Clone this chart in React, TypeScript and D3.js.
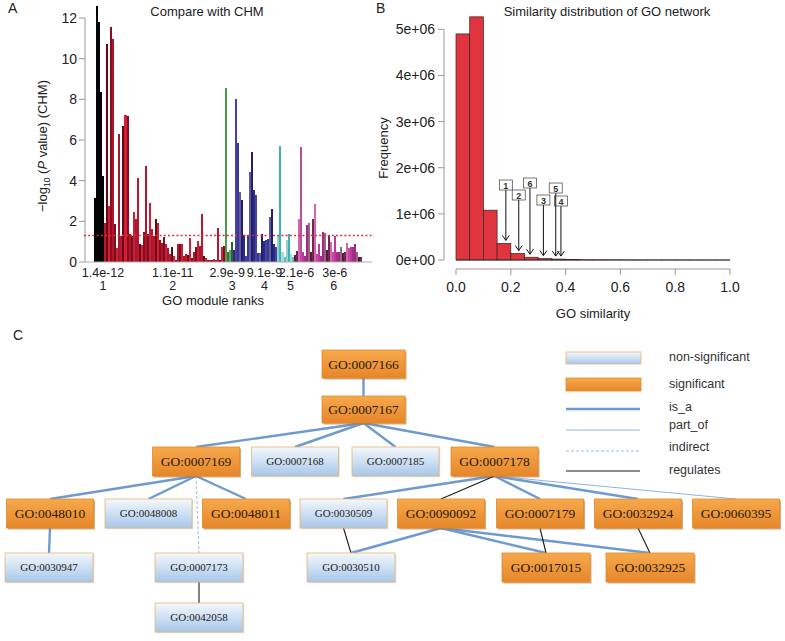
import React from 'react';
import * as d3 from 'd3';

// ---------- Panel A data ----------
const chmValues = [
  3.15, 12.6, 11.8, 8.35, 4.25,
  1.9, 10.7, 2.75, 11.55, 10.95, 1.85, 0.7, 6.3, 1.3, 6.7, 7.25, 7.2, 1.4, 1.3, 2.45,
  2.1, 4.15, 0.9, 0.85, 1.5, 4.7, 1.4, 2.9, 1.6, 1.3, 2.1, 1.9, 1.1, 0.95, 1.25,
  0.9, 0.7, 0.4, 0.75, 0.3, 0.1, 0.9, 0.9, 0.9, 0.3, 0.4, 0.35, 1.2, 0.2, 0.5,
  0.75, 1.05, 0.8, 2.35, 0.3, 0.2, 0.1, 0.12, 0.12, 0.15, 0.1, 1.65, 0.1, 0.75, 0.8,
  8.55, 0.5, 0.6, 1.0,
  0.6, 8.0, 5.85, 3.45, 3.05, 1.35, 0.3, 1.35, 4.45, 5.4, 3.55, 3.3, 0.45, 0.45, 1.4,
  1.05, 1.1, 1.15, 2.2, 2.6, 0.9, 0.75,
  1.3, 5.7, 0.5, 0.25, 1.1, 1.4, 0.4, 0.25,
  0.35, 0.55, 2.1, 5.65, 0.5, 0.3, 1.8, 1.9, 0.5, 2.1, 2.85, 0.4, 0.9, 0.3, 1.5, 1.45,
  0.6, 1.35, 1.0, 0.5, 1.3, 0.5, 0.5, 0.75, 0.45, 0.5, 0.95, 0.7, 0.75, 0.75, 0.9,
  0.5, 0.25, 0.25,
];
const moduleSizes = [5, 60, 4, 22, 8, 34];
const modulePvalLabels = ['1.4e-12', '1.1e-11', '2.9e-9', '9.1e-9', '2.1e-6', '3e-6'];
const moduleRankLabels = ['1', '2', '3', '4', '5', '6'];
const pvalLabelAnchor = [4.3, 39, 66, 84.5, 100.5, 119.5];
const rankLabelAnchor = [4.3, 39, 68.5, 84.5, 97.5, 119];
const yTicksA = [0, 2, 4, 6, 8, 10, 12];
const sigThreshold = 1.3;

// ---------- Panel B data ----------
const simBinStarts = d3.range(0, 1, 0.05);
const simCountsMillions = [
  4.9, 5.27, 1.08, 0.36, 0.14, 0.06, 0.03, 0.02, 0.008, 0.005,
  0.004, 0.003, 0.002, 0.0015, 0.001, 0.001, 0.0008, 0.0005, 0.0003, 0.0002,
];
const moduleSimilarity = [0.182, 0.229, 0.319, 0.383, 0.364, 0.27];
const moduleSimNames = ['1', '2', '3', '4', '5', '6'];
const yTicksB = [0, 1, 2, 3, 4, 5];
const yTickLabelsB = ['0e+00', '1e+06', '2e+06', '3e+06', '4e+06', '5e+06'];
const xTicksB = [0, 0.2, 0.4, 0.6, 0.8, 1.0];

// ---------- Panel C data ----------
const goTerms = [
  'GO:0007166', 'GO:0007167', 'GO:0007169', 'GO:0007168', 'GO:0007185', 'GO:0007178',
  'GO:0048010', 'GO:0048008', 'GO:0048011', 'GO:0030509', 'GO:0090092', 'GO:0007179',
  'GO:0032924', 'GO:0060395', 'GO:0030947', 'GO:0007173', 'GO:0030510', 'GO:0017015',
  'GO:0032925', 'GO:0042058',
];
const goSignificant = [
  true, true, true, false, false, true,
  true, false, true, false, true, true,
  true, true, false, false, false, true,
  true, false,
];
const goEdges: [string, string, string][] = [
  ['GO:0007166', 'GO:0007167', 'is_a'],
  ['GO:0007167', 'GO:0007169', 'is_a'],
  ['GO:0007167', 'GO:0007168', 'is_a'],
  ['GO:0007167', 'GO:0007185', 'is_a'],
  ['GO:0007167', 'GO:0007178', 'is_a'],
  ['GO:0007169', 'GO:0048010', 'is_a'],
  ['GO:0007169', 'GO:0048008', 'is_a'],
  ['GO:0007169', 'GO:0048011', 'is_a'],
  ['GO:0007169', 'GO:0007173', 'indirect'],
  ['GO:0048010', 'GO:0030947', 'is_a'],
  ['GO:0007173', 'GO:0042058', 'regulates'],
  ['GO:0007178', 'GO:0030509', 'is_a'],
  ['GO:0007178', 'GO:0090092', 'regulates'],
  ['GO:0007178', 'GO:0007179', 'is_a'],
  ['GO:0007178', 'GO:0032924', 'is_a'],
  ['GO:0007178', 'GO:0060395', 'part_of'],
  ['GO:0030509', 'GO:0030510', 'regulates'],
  ['GO:0090092', 'GO:0030510', 'is_a'],
  ['GO:0090092', 'GO:0017015', 'is_a'],
  ['GO:0090092', 'GO:0032925', 'is_a'],
  ['GO:0007179', 'GO:0017015', 'regulates'],
  ['GO:0032924', 'GO:0032925', 'regulates'],
];
const legendItems = ['non-significant', 'significant', 'is_a', 'part_of', 'indirect', 'regulates'];

// ---------- Layout (positions, not data) ----------
const rowTop = [350, 396, 447, 499, 553, 603];
const rowHeight = [28, 27, 29, 29, 29, 29];
const rowWidth = [83, 83, 87, 87, 88, 88];
const nodeLayout: Record<string, [number, number]> = {
  'GO:0007166': [363.5, 0], 'GO:0007167': [363.5, 1],
  'GO:0007169': [196, 2], 'GO:0007168': [295, 2], 'GO:0007185': [395.5, 2], 'GO:0007178': [494.5, 2],
  'GO:0048010': [50, 3], 'GO:0048008': [148.5, 3], 'GO:0048011': [246, 3], 'GO:0030509': [343.5, 3],
  'GO:0090092': [441, 3], 'GO:0007179': [540, 3], 'GO:0032924': [638, 3], 'GO:0060395': [736, 3],
  'GO:0030947': [49, 4], 'GO:0007173': [199, 4], 'GO:0030510': [351, 4], 'GO:0017015': [546, 4],
  'GO:0032925': [650, 4], 'GO:0042058': [199, 5],
};
const simLabelTop = [180, 190, 195, 196, 183, 178];

const moduleShades = [
  ['#050505', '#111111', '#000000'],
  ['#c0142e', '#8a0c1e', '#cc1f36', '#650812', '#b0152b', '#a31a30', '#d41e38', '#78101f'],
  ['#2e7a34', '#4a9a4f', '#236b2a', '#6f9a70'],
  ['#2d2a86', '#3b3898', '#231f6e', '#4444a0', '#5c5c98'],
  ['#3fb3ab', '#8fd2d0', '#5fbfbb', '#a6dcdc'],
  ['#a8287f', '#7a2250', '#c236a0', '#8c6a80', '#d066b0', '#9a3486', '#5a1a3c', '#b8509a'],
];

const SANS = 'Liberation Sans, Arial, sans-serif';
const SERIF = 'Liberation Serif, Times New Roman, serif';

function PanelA() {
  const n = chmValues.length;
  const x = d3.scaleBand<number>().domain(d3.range(n)).range([94.3, 362]).paddingInner(0);
  const y = d3.scaleLinear().domain([0, 12]).range([262, 18]);
  const step = x.step();
  const moduleOf: number[] = [];
  moduleSizes.forEach((s, m) => { for (let i = 0; i < s; i++) moduleOf.push(m); });
  const posAt = (a: number) => 94.3 + a * step;
  return (
    <g fontFamily={SANS}>
      <text x={8} y={13} fontSize={14} fill="#222">A</text>
      <text x={207} y={16} fontSize={13} textAnchor="middle" fill="#222">Compare with CHM</text>
      <g shapeRendering="crispEdges">
        {chmValues.map((v, i) => {
          const m = moduleOf[i];
          const shades = moduleShades[m];
          const c = shades[(i * 3 + m) % shades.length];
          return (
            <rect key={i} x={x(i)} y={y(v)} width={x.bandwidth()} height={y(0) - y(v)} fill={c} />
          );
        })}
      </g>
      <line x1={85} x2={85} y1={y(0)} y2={y(12)} stroke="#999" strokeWidth={1} />
      {yTicksA.map(t => (
        <g key={t}>
          <line x1={79} x2={85} y1={y(t)} y2={y(t)} stroke="#999" />
          <text x={77} y={y(t) + 5} fontSize={14} textAnchor="end" fill="#222">{t}</text>
        </g>
      ))}
      <line x1={85} x2={372} y1={y(0)} y2={y(0)} stroke="#aaa" strokeWidth={1} />
      <line x1={84} x2={374} y1={y(sigThreshold)} y2={y(sigThreshold)} stroke="#d8303c"
        strokeWidth={1.6} strokeDasharray="2,2.2" />
      {modulePvalLabels.map((l, i) => (
        <text key={l} x={posAt(pvalLabelAnchor[i])} y={277} fontSize={12.5} textAnchor="middle" fill="#222">{l}</text>
      ))}
      {moduleRankLabels.map((l, i) => (
        <text key={l} x={posAt(rankLabelAnchor[i])} y={290} fontSize={12.5} textAnchor="middle" fill="#222">{l}</text>
      ))}
      <text x={213} y={305} fontSize={13} textAnchor="middle" fill="#222">GO module ranks</text>
      <text transform="translate(47,146) rotate(-90)" fontSize={13} textAnchor="middle" fill="#222">
        −log<tspan fontSize={8.5} dy={3}>10</tspan><tspan dy={-3}> (</tspan><tspan fontStyle="italic">P</tspan> value) (CHM)
      </text>
    </g>
  );
}

function PanelB() {
  const x = d3.scaleLinear().domain([0, 1]).range([456, 730]);
  const y = d3.scaleLinear().domain([0, 5]).range([260, 29.3]);
  const binW = 0.05;
  const countAt = (s: number) => simCountsMillions[Math.min(simCountsMillions.length - 1, Math.floor(s / binW))];
  return (
    <g fontFamily={SANS}>
      <text x={376} y={13} fontSize={14} fill="#222">B</text>
      <text x={607} y={16} fontSize={13} textAnchor="middle" fill="#222">Similarity distribution of GO network</text>
      {simBinStarts.map((s, i) => (
        <rect key={i} x={x(s)} y={y(simCountsMillions[i])} width={x(s + binW) - x(s)}
          height={y(0) - y(simCountsMillions[i])} fill="#e0353e" stroke="#3a2020" strokeWidth={0.7} />
      ))}
      <line x1={x(0)} x2={x(1)} y1={y(0)} y2={y(0)} stroke="#333" strokeWidth={0.9} />
      <line x1={444} x2={444} y1={y(0)} y2={y(5)} stroke="#999" />
      {yTicksB.map((t, i) => (
        <g key={t}>
          <line x1={438} x2={444} y1={y(t)} y2={y(t)} stroke="#999" />
          <text x={435} y={y(t) + 5} fontSize={14} textAnchor="end" fill="#222">{yTickLabelsB[i]}</text>
        </g>
      ))}
      <line x1={x(0)} x2={x(1)} y1={269} y2={269} stroke="#999" />
      {xTicksB.map(t => (
        <g key={t}>
          <line x1={x(t)} x2={x(t)} y1={269} y2={275} stroke="#999" />
          <text x={x(t)} y={292} fontSize={14} textAnchor="middle" fill="#222">{t.toFixed(1)}</text>
        </g>
      ))}
      <text x={593} y={318} fontSize={13} textAnchor="middle" fill="#222">GO similarity</text>
      <text transform="translate(388,148) rotate(-90)" fontSize={13} textAnchor="middle" fill="#222">Frequency</text>
      {moduleSimilarity.map((s, i) => {
        const ax = x(s);
        const top = simLabelTop[i];
        const end = y(countAt(s)) - 3;
        return (
          <g key={i}>
            <line x1={ax} x2={ax} y1={top + 10} y2={end} stroke="#111" strokeWidth={1} />
            <path d={`M${ax - 3.5},${end - 5} L${ax},${end} L${ax + 3.5},${end - 5}`} fill="none" stroke="#111" strokeWidth={1} />
            <rect x={ax - 6.5} y={top} width={13} height={10} fill="#fff" stroke="#555" strokeWidth={0.8} />
            <text x={ax} y={top + 8.5} fontSize={9} fontWeight="bold" textAnchor="middle" fill="#333">{moduleSimNames[i]}</text>
          </g>
        );
      })}
    </g>
  );
}

function edgeStyle(t: string) {
  if (t === 'is_a') return { stroke: '#6d9bd1', strokeWidth: 2.4 };
  if (t === 'part_of') return { stroke: '#8fb3dc', strokeWidth: 1 };
  if (t === 'indirect') return { stroke: '#9dbad9', strokeWidth: 1, strokeDasharray: '3,2' };
  return { stroke: '#1a1a1a', strokeWidth: 1.1 };
}

function PanelC() {
  const box = (id: string) => {
    const [cx, r] = nodeLayout[id];
    const w = rowWidth[r], h = rowHeight[r];
    return { x: cx - w / 2, y: rowTop[r], w, h, cx };
  };
  const sigOf = (id: string) => goSignificant[goTerms.indexOf(id)];
  return (
    <g>
      <text x={13} y={340} fontSize={14} fontFamily={SANS} fill="#222">C</text>
      {goEdges.map(([a, b, t], i) => {
        const A = box(a), B = box(b);
        return <line key={i} x1={A.cx} y1={A.y + A.h} x2={B.cx} y2={B.y} {...edgeStyle(t)} />;
      })}
      {goTerms.map(id => {
        const b = box(id);
        const sig = sigOf(id);
        return (
          <g key={id}>
            {sig && <rect x={b.x + 1.5} y={b.y + 1.5} width={b.w} height={b.h} fill="#b8651a" opacity={0.55} />}
            {!sig && <rect x={b.x + 1.2} y={b.y + 1.2} width={b.w} height={b.h} fill="#9a9a9a" opacity={0.35} />}
            <rect x={b.x} y={b.y} width={b.w} height={b.h}
              fill={sig ? 'url(#gOrange)' : 'url(#gBlue)'}
              stroke={sig ? '#e08a2c' : '#e9b672'} strokeWidth={0.8} />
            <text x={b.cx} y={b.y + b.h / 2 + (sig ? 4.5 : 3.8)} textAnchor="middle"
              fontFamily={SERIF} fontSize={sig ? 13.5 : 11} fill={sig ? '#2a1a0a' : '#222'}>{id}</text>
          </g>
        );
      })}
      <g fontFamily={SANS} fontSize={12.5} fill="#333">
        <rect x={566} y={352} width={75} height={12} fill="url(#gBlue)" stroke="#e9b672" strokeWidth={0.8} />
        <rect x={566} y={378} width={75} height={13} fill="url(#gOrange)" stroke="#e08a2c" strokeWidth={0.8} />
        <line x1={566} x2={640} y1={409} y2={409} {...edgeStyle('is_a')} />
        <line x1={566} x2={640} y1={430} y2={430} {...edgeStyle('part_of')} />
        <line x1={566} x2={640} y1={451} y2={451} {...edgeStyle('indirect')} />
        <line x1={566} x2={640} y1={471} y2={471} {...edgeStyle('regulates')} />
        {legendItems.map((l, i) => (
          <text key={l} x={669} y={[361, 388, 411, 429, 451, 474][i]}>{l}</text>
        ))}
      </g>
    </g>
  );
}

export default function App() {
  return (
    <svg width={785} height={641} viewBox="0 0 785 641"
      style={{ position: 'absolute', left: 0, top: 0, background: '#fff' }}>
      <defs>
        <linearGradient id="gOrange" x1="0" y1="0" x2="0" y2="1">
          <stop offset="0" stopColor="#f6a94c" />
          <stop offset="1" stopColor="#e6862a" />
        </linearGradient>
        <linearGradient id="gBlue" x1="0" y1="0" x2="0" y2="1">
          <stop offset="0" stopColor="#f4f8fc" />
          <stop offset="1" stopColor="#a7c7ea" />
        </linearGradient>
      </defs>
      <rect x={0} y={0} width={785} height={641} fill="#fff" />
      <PanelA />
      <PanelB />
      <PanelC />
    </svg>
  );
}
